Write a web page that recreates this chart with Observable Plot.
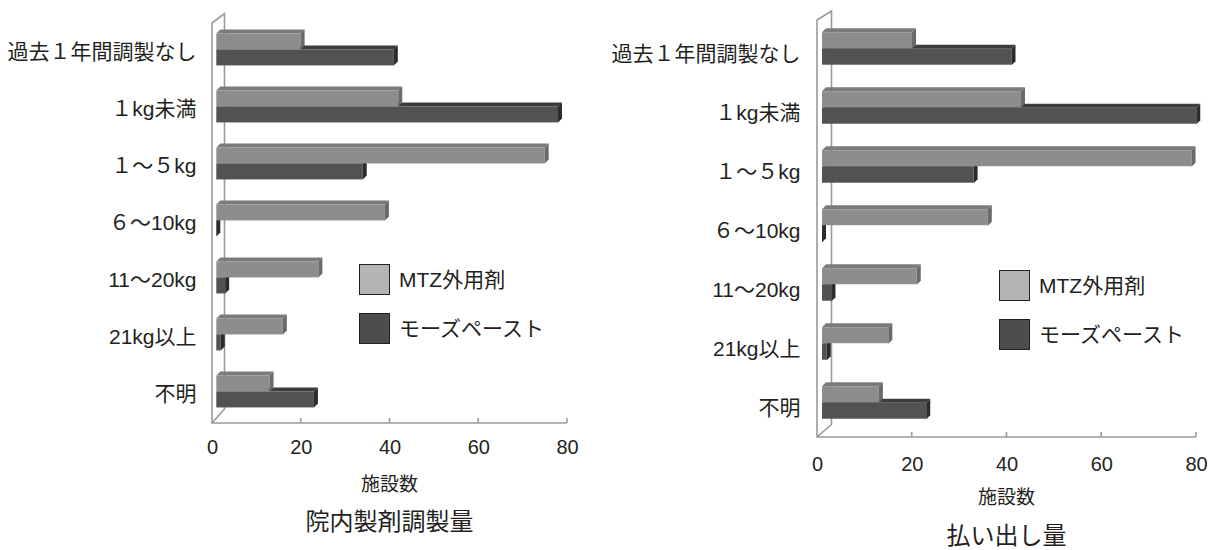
<!DOCTYPE html>
<html>
<head>
<meta charset="utf-8">
<script src="https://cdn.jsdelivr.net/npm/d3@7"></script>
<script src="https://cdn.jsdelivr.net/npm/@observablehq/plot@0.6"></script>
<style>
  html, body { margin: 0; padding: 0; background: #fff; }
  #root { position: relative; width: 1220px; height: 550px; overflow: hidden;
          font-family: "Liberation Sans", "Noto Sans CJK JP", sans-serif; color: #231f20; }
  .panel { position: absolute; top: 0; }
  .lbl { position: absolute; transform: translate(-50%, -50%); white-space: nowrap; line-height: 1.1; }
  .sw { position: absolute; width: 29px; height: 29px; border: 1.6px solid #231f20; }
  .lt { position: absolute; transform: translateY(-50%); white-space: nowrap; font-size: 21px; line-height: 1.1; }
</style>
</head>
<body>
<div id="root"></div>
<script>
// ---------------- data ----------------
const categories = ["過去１年間調製なし", "１kg未満", "１～５kg", "６～10kg", "11～20kg", "21kg以上", "不明"];
const seriesNames = ["MTZ外用剤", "モーズペースト"];
const inHouseMTZ  = [19, 41, 74, 38, 23, 15, 12];
const inHouseMohs = [40, 77, 33, 0, 2, 1, 22];
const dispensedMTZ  = [19, 42, 78, 35, 20, 14, 12];
const dispensedMohs = [40, 79, 32, 0, 2, 1, 22];
const xTicks = [0, 20, 40, 60, 80];
const xLabel = "施設数";
const panelTitles = ["院内製剤調製量", "払い出し量"];

// ---------------- styles ----------------
const FONT = '"Liberation Sans", "Noto Sans CJK JP", sans-serif';
const MTZ_COL  = {front: "#8d8d8d", top: "#7b7b7b", side: "#6a6a6a", legend: "#b5b5b5"};
const MOHS_COL = {front: "#525252", top: "#3c3c3c", side: "#2c2c2c", legend: "#4d4d4d"};
const AXIS_COL = "#9a9a9a";

function bar3d(values, o) {
  const data = categories.map((c, i) => ({category: c, value: values[i]}));
  return Plot.barX(data, {
    x: "value", y: "category", fill: o.col.front,
    dx: o.dx, dy: o.dy, insetTop: o.insetTop, insetBottom: o.insetBottom,
    render(index, scales, vals, dims, ctx, next) {
      const g = next(index, scales, vals, dims, ctx);
      const bw = (dims.height - dims.marginTop - dims.marginBottom) / categories.length;
      const h = bw - o.insetTop - o.insetBottom;
      const sel = d3.select(g);
      const [ddx, ddy] = o.depth;
      for (const i of index) {
        const xa = Math.min(vals.x1[i], vals.x2[i]);
        const xb = Math.max(vals.x1[i], vals.x2[i]);
        const y = vals.y[i] + o.insetTop;
        sel.append("path").attr("fill", o.col.top)
          .attr("d", `M${xa},${y}L${xb},${y}L${xb + ddx},${y - ddy}L${xa + ddx},${y - ddy}Z`);
        sel.append("path").attr("fill", o.col.side)
          .attr("d", `M${xb},${y}L${xb + ddx},${y - ddy}L${xb + ddx},${y + h - ddy}L${xb},${y + h}Z`);
      }
      return g;
    }
  });
}

function wallMark(dTop, dBottom) {
  return Plot.ruleX([0], {
    render(index, scales, vals, dims) {
      const x0 = scales.x(0), x1 = scales.x(xTicks[xTicks.length - 1]);
      const yT = dims.marginTop, yB = dims.height - dims.marginBottom;
      const g = d3.create("svg:g").attr("fill", "none").attr("stroke", AXIS_COL).attr("stroke-width", 1.6);
      g.append("path").attr("d",
        `M${x1},${yB}H${x0}V${yT}L${x0 + dTop[0]},${yT + dTop[1]}V${yB + dBottom[1]}L${x0},${yB}`);
      for (const t of xTicks.slice(1)) {
        g.append("path").attr("d", `M${scales.x(t)},${yB}v-5`);
      }
      return g.node();
    }
  });
}

function panel(mtz, mohs, cfg) {
  const bw = (cfg.height - cfg.marginTop - cfg.marginBottom) / categories.length;
  const insSmall = bw / 2 - cfg.barH;
  const insBig = bw / 2;
  return Plot.plot({
    width: cfg.width, height: cfg.height,
    marginLeft: cfg.marginLeft, marginRight: cfg.marginRight,
    marginTop: cfg.marginTop, marginBottom: cfg.marginBottom,
    style: {fontFamily: FONT, fontSize: "20px", color: "#231f20", background: "transparent", overflow: "visible"},
    x: {domain: [0, 80], label: null},
    y: {domain: categories, padding: 0, label: null},
    marks: [
      wallMark(cfg.dTop, cfg.dBottom),
      bar3d(mohs, {col: MOHS_COL, dx: cfg.bdx, dy: cfg.bdy, insetTop: insBig, insetBottom: insSmall, depth: [4, 4]}),
      bar3d(mtz, {col: MTZ_COL, dx: cfg.bdx, dy: cfg.bdy, insetTop: insSmall, insetBottom: insBig, depth: [4, 4]}),
      Plot.axisX({ticks: xTicks, tickSize: 0, tickPadding: cfg.xPad, label: null, fontSize: 20}),
      Plot.axisY({tickSize: 0, tickPadding: cfg.yPad, label: null, fontSize: 21, dy: cfg.yDy})
    ]
  });
}

const root = document.getElementById("root");

const cfgs = [
  {left: 0, width: 600, height: 470, marginLeft: 212, marginRight: 33, marginTop: 23, marginBottom: 47,
   barH: 16, bdx: 4.3, bdy: -3, dTop: [12.5, -9.5], dBottom: [13.5, -14], xPad: 16, yPad: 16, yDy: -1,
   mtz: inHouseMTZ, mohs: inHouseMohs, title: panelTitles[0], xlY: 485, tY: 522,
   leg: {x: 359, y: [264, 313], tx: 399}},
  {left: 600, width: 620, height: 490, marginLeft: 217, marginRight: 24, marginTop: 20, marginBottom: 53,
   barH: 16.5, bdx: 5, bdy: -3, dTop: [14.5, -9], dBottom: [14, -12.5], xPad: 19, yPad: 17, yDy: 2,
   mtz: dispensedMTZ, mohs: dispensedMohs, title: panelTitles[1], xlY: 498, tY: 536,
   leg: {x: 999, y: [270, 319], tx: 1039}}
];

for (const cfg of cfgs) {
  const div = document.createElement("div");
  div.className = "panel";
  div.style.left = cfg.left + "px";
  div.appendChild(panel(cfg.mtz, cfg.mohs, cfg));
  root.appendChild(div);

  const cx = cfg.left + (cfg.marginLeft + (cfg.width - cfg.marginRight)) / 2;
  const xl = document.createElement("div");
  xl.className = "lbl"; xl.textContent = xLabel;
  xl.style.cssText += `left:${cx}px;top:${cfg.xlY}px;font-size:19px;`;
  root.appendChild(xl);
  const tl = document.createElement("div");
  tl.className = "lbl"; tl.textContent = cfg.title;
  tl.style.cssText += `left:${cx}px;top:${cfg.tY}px;font-size:24px;`;
  root.appendChild(tl);

  [MTZ_COL, MOHS_COL].forEach((col, k) => {
    const sw = document.createElement("div");
    sw.className = "sw";
    sw.style.cssText += `left:${cfg.leg.x}px;top:${cfg.leg.y[k]}px;background:${col.legend};`;
    root.appendChild(sw);
    const t = document.createElement("div");
    t.className = "lt"; t.textContent = seriesNames[k];
    t.style.cssText += `left:${cfg.leg.tx}px;top:${cfg.leg.y[k] + 16}px;`;
    root.appendChild(t);
  });
}
</script>
</body>
</html>
